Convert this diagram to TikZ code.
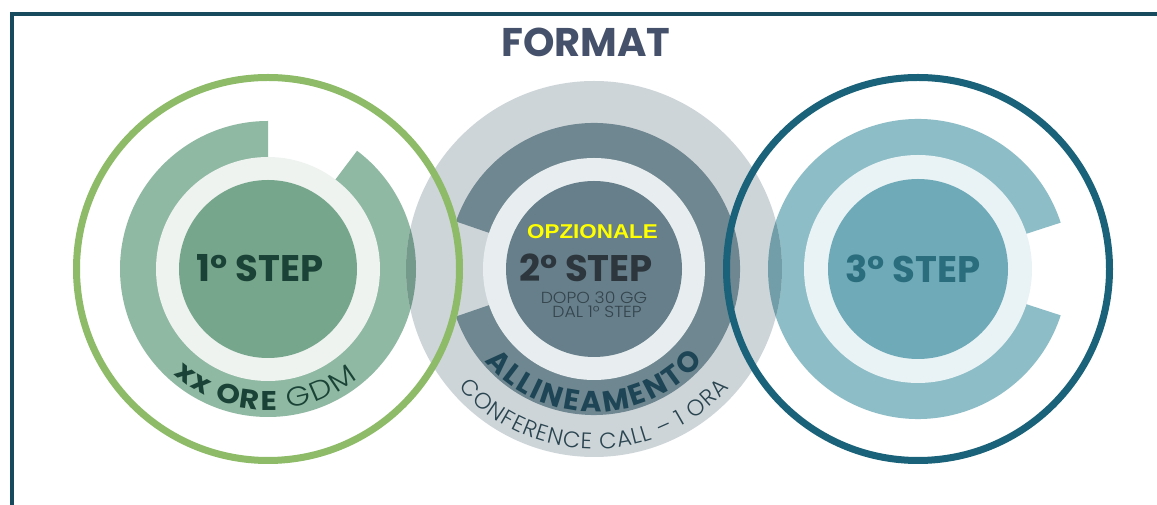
\documentclass[tikz,border=0pt]{standalone}
\usepackage{fontspec}
\setmainfont{Poppins}
\newfontfamily\plight{Poppins Light}
\newfontfamily\arialf{Liberation Sans}
\newfontfamily\wideA{Poppins}[FakeStretch=1.12]
\newfontfamily\lightA{Poppins Light}[FakeStretch=1.15]
\newfontfamily\lightC{Poppins Light}[FakeStretch=1.08]
\usetikzlibrary{decorations.text}
\definecolor{frame}{HTML}{164A5C}
\definecolor{ttl}{HTML}{45506A}
\definecolor{gout}{HTML}{8DBB67}
\definecolor{glight}{HTML}{8FB9A2}
\definecolor{gwhite}{HTML}{EEF3F0}
\definecolor{gdisk}{HTML}{76A68B}
\definecolor{gtxt}{HTML}{1B4236}
\definecolor{sgray}{HTML}{CED5D9}
\definecolor{sdark}{HTML}{6F8790}
\definecolor{swhite}{HTML}{E8EEF0}
\definecolor{sdisk}{HTML}{667F8A}
\definecolor{stxt}{HTML}{2C363C}
\definecolor{ssmall}{HTML}{34444C}
\definecolor{satxt}{HTML}{1D4555}
\definecolor{sctxt}{HTML}{2A4550}
\definecolor{bout}{HTML}{1A6279}
\definecolor{blight}{HTML}{8DBDC7}
\definecolor{bwhite}{HTML}{E9F3F5}
\definecolor{bdisk}{HTML}{6FAAB8}
\definecolor{btxt}{HTML}{2A6D7D}
\definecolor{ovg}{HTML}{739A8A}
\definecolor{ovb}{HTML}{729EA9}
\definecolor{opz}{HTML}{FFFF00}
\begin{document}
\begin{tikzpicture}[x=1pt,y=1pt,
  lbl/.style={inner sep=0pt, anchor=base},
  steplbl/.style={lbl, font=\bfseries\fontsize{37}{37}\selectfont},
  smalllbl/.style={lbl, font=\lightC\fontsize{16}{16}\selectfont, text=ssmall},
  outring/.style={line width=7pt}]
\useasboundingbox (0,0) rectangle (1157,505);
\fill[white] (0,0) rectangle (1157,505);
% frame
\draw[frame, line width=4pt] (12,0) -- (12,491) -- (1157,491);
\node[lbl, text=ttl, font=\bfseries\fontsize{40}{40}\selectfont] (title) at (586,448) {FORMAT};
% centres
\coordinate (c1) at (268,236);
\coordinate (c2) at (594,236);
\coordinate (c3) at (918,236);
% circle 1 inner
\fill[glight] (c1) -- ([shift={(90:148)}]c1) arc[start angle=90,end angle=413,radius=148] -- cycle;
\fill[gwhite] (c1) circle[radius=112];
\fill[gdisk] (c1) circle[radius=89];
% circle 3 inner
\fill[blight] (c3) -- ([shift={(18:150)}]c3) arc[start angle=18,end angle=342,radius=150] -- cycle;
\fill[bwhite] (c3) circle[radius=114];
\fill[bdisk] (c3) circle[radius=90];
% circle 2
\fill[sgray] (c2) circle[radius=188];
\begin{scope}
  \clip (c2) circle[radius=188];
  \fill[ovg, even odd rule] (c1) circle[radius=148] (c1) circle[radius=112];
  \fill[ovb, even odd rule] (c3) circle[radius=150] (c3) circle[radius=114];
\end{scope}
\fill[sdark] (c2) -- ([shift={(-161:146)}]c2) arc[start angle=-161,end angle=161,radius=146] -- cycle;
\fill[swhite] (c2) circle[radius=111];
\fill[sdisk] (c2) circle[radius=88];
% outline rings
\draw[gout, outring] (c1) circle[radius=191.5];
\draw[bout, outring] (c3) circle[radius=191.5];
% labels
\node[steplbl, text=gtxt] (s1) at (260,223) {1° STEP};
\node[steplbl, text=stxt] (s2) at (586,223) {2° STEP};
\node[steplbl, text=btxt] (s3) at (913,222) {3° STEP};
\node[lbl, text=opz, font=\arialf\bfseries\fontsize{20}{20}\selectfont] (opz) at (592.5,266) {\scalebox{1.12}[1]{OPZIONALE}};
\node[smalllbl] (d1) at (594,201) {DOPO 30 GG};
\node[smalllbl] (d2) at (597,187) {DAL 1° STEP};
% curved texts
{\wideA\bfseries\fontsize{27}{27}\selectfont
\path[decorate, decoration={text effects along path, text={xx ORE}, text align=right,
   text effects/.cd, text along path, character widths={inner xsep=1pt},
   characters={text=gtxt, anchor=base}}]
   ([shift={(200:141)}]c1) arc[start angle=200,end angle=274,radius=141];
}
{\lightA\fontsize{27}{27}\selectfont
\path[decorate, decoration={text effects along path, text={GDM}, text align=left,
   text effects/.cd, text along path, character widths={inner xsep=1pt},
   characters={text=gtxt, anchor=base}}]
   ([shift={(278:141)}]c1) arc[start angle=278,end angle=340,radius=141];
}
{\bfseries\fontsize{29}{29}\selectfont
\path[decorate, decoration={text effects along path, text={ALLINEAMENTO}, text align=center,
   text effects/.cd, text along path, character widths={inner xsep=1.3pt},
   characters={text=satxt, anchor=base}}]
   ([shift={(195:143)}]c2) arc[start angle=195,end angle=345,radius=143];
}
{\plight\fontsize{22.5}{22.5}\selectfont
\path[decorate, decoration={text effects along path, text={CONFERENCE CALL – 1 ORA}, text align=center,
   text effects/.cd, text along path, character widths={inner xsep=0.5pt},
   characters={text=sctxt, anchor=base}}]
   ([shift={(195:180)}]c2) arc[start angle=195,end angle=345,radius=180];
}
\end{tikzpicture}
\end{document}
